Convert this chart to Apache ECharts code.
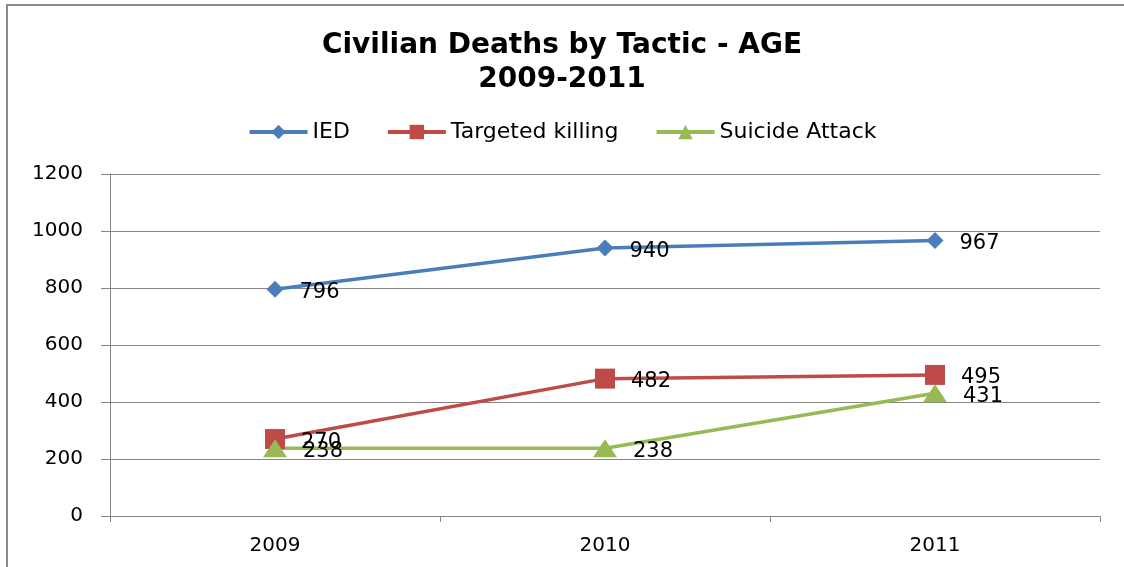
<!DOCTYPE html>
<html>
<head>
<meta charset="utf-8">
<script src="https://cdn.jsdelivr.net/npm/echarts@6/dist/echarts.min.js"></script>
<style>html,body{margin:0;padding:0;background:#fff}#c{width:1124px;height:567px}</style>
</head>
<body>
<div id="c"></div>
<script>
var categories = ['2009', '2010', '2011'];
var ied = [796, 940, 967];
var targeted = [270, 482, 495];
var suicide = [238, 238, 431];
var seriesNames = ['IED', 'Targeted killing', 'Suicide Attack'];

var chart = echarts.init(document.getElementById('c'), null, {renderer: 'canvas'});
var font = 'DejaVu Sans';
function lbl() {
  return {show: true, position: 'right', distance: 16, offset: [0, 3],
    color: '#000', fontFamily: font, fontSize: 21};
}
chart.setOption({
  animation: false,
  backgroundColor: '#fff',
  graphic: [{
    type: 'rect', shape: {x: 7, y: 5, width: 1300, height: 800},
    style: {fill: 'none', stroke: '#8a8a8a', lineWidth: 2}, silent: true
  }],
  title: {
    text: 'Civilian Deaths by Tactic - AGE\n2009-2011',
    left: 'center', top: 24,
    textStyle: {fontFamily: font, fontWeight: 'bold', fontSize: 28, lineHeight: 34, color: '#000'}
  },
  legend: {
    top: 116, left: 'center',
    itemWidth: 58, itemHeight: 18, itemGap: 36,
    lineStyle: {width: 4},
    textStyle: {fontFamily: font, fontSize: 22, color: '#000'},
    data: seriesNames
  },
  grid: {left: 110, right: 24, top: 174, bottom: 51},
  xAxis: {
    type: 'category', data: categories, boundaryGap: true,
    axisLine: {lineStyle: {color: '#868686', width: 1}},
    axisTick: {show: true, length: 6, lineStyle: {color: '#868686'}},
    axisLabel: {color: '#000', fontFamily: font, fontSize: 20, margin: 20}
  },
  yAxis: {
    type: 'value', min: 0, max: 1200, interval: 200,
    axisLine: {show: true, lineStyle: {color: '#868686'}},
    axisTick: {show: true, length: 9, lineStyle: {color: '#868686'}},
    axisLabel: {color: '#000', fontFamily: font, fontSize: 20, margin: 27,
      formatter: function (v) { return String(v); }},
    splitLine: {lineStyle: {color: '#868686', width: 1}}
  },
  series: [
    {name: seriesNames[0], type: 'line', data: ied, symbol: 'diamond', symbolSize: 17,
      lineStyle: {color: '#4A7EBB', width: 3.5}, itemStyle: {color: '#4A7EBB'}, label: lbl()},
    {name: seriesNames[1], type: 'line', data: targeted, symbol: 'rect', symbolSize: 20,
      lineStyle: {color: '#BE4B48', width: 3.5}, itemStyle: {color: '#BE4B48'}, label: lbl()},
    {name: seriesNames[2], type: 'line', data: suicide, symbol: 'triangle', symbolSize: [24, 18],
      lineStyle: {color: '#98B954', width: 3.5}, itemStyle: {color: '#98B954'}, label: lbl()}
  ]
});
</script>
</body>
</html>
